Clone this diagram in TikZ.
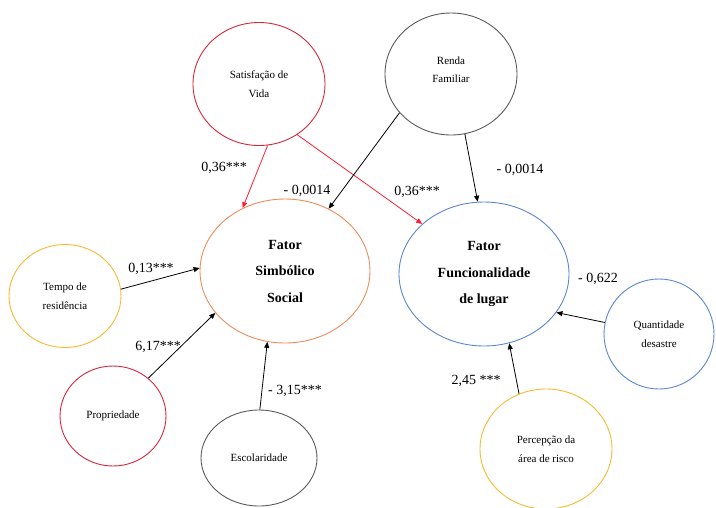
\documentclass[tikz,border=0pt]{standalone}
\usepackage{fontspec}
\setmainfont{Liberation Serif}
\usetikzlibrary{arrows.meta,shapes.geometric}
\definecolor{cred}{RGB}{214,38,58}
\definecolor{cgold}{RGB}{247,185,50}
\definecolor{corange}{RGB}{240,140,90}
\definecolor{cblue}{RGB}{90,135,210}
\definecolor{cgrey}{RGB}{90,90,90}
\definecolor{carrowred}{RGB}{250,30,50}
\tikzset{
  var/.style={draw, ellipse, line width=0.9pt, align=center, inner sep=0pt,
    font=\fontsize{11}{18.5}\selectfont},
  factor/.style={draw, ellipse, line width=0.9pt, align=center, inner sep=0pt,
    font=\fontsize{14}{26.5}\selectfont\bfseries},
  link/.style={-{Triangle[length=6pt,width=5pt]}, line width=0.8pt, black},
  redlink/.style={link, carrowred},
  coef/.style={font=\fontsize{14}{16}\selectfont, inner sep=0pt},
}
\begin{document}
\begin{tikzpicture}[x=1pt,y=-1pt]
\useasboundingbox (0,0) rectangle (716,507);

% exogenous variables
\node[var, draw=cred,  minimum width=132pt, minimum height=123pt] (sat)  at (259,84)  {Satisfação de\\Vida};
\node[var, draw=cgrey, minimum width=132pt, minimum height=122pt] (ren)  at (451,74)  {Renda\\Familiar\\[-10pt]\mbox{}};
\node[var, draw=cgold, minimum width=112pt, minimum height=103pt] (tem)  at (65,296)  {Tempo de\\residência};
\node[var, draw=cred,  minimum width=106pt, minimum height=100pt] (pro)  at (113,416) {Propriedade};
\node[var, draw=cgrey, minimum width=116pt, minimum height=96pt]  (esc)  at (259,458) {Escolaridade};
\node[var, draw=cblue, minimum width=110pt, minimum height=110pt] (qua)  at (659,334) {Quantidade\\desastre};
\node[var, draw=cgold, minimum width=132pt, minimum height=120pt] (per)  at (546,449) {Percepção da\\área de risco};

% latent factors
\node[factor, draw=corange, minimum width=170pt, minimum height=144pt] (sim) at (285,271) {Fator\\Simbólico\\Social};
\node[factor, draw=cblue,   minimum width=170pt, minimum height=144pt] (fun) at (484,274) {Fator\\Funcionalidade\\de lugar};

% paths
\draw[redlink] (sat.-82.6) -- (sim.124);
\draw[redlink] (sat.-53) -- (fun.141);
\draw[link] (ren.-143) -- (sim.55);
\draw[link] (ren.-77) -- (fun.95);
\draw[link] (tem.7) -- (sim.178);
\draw[link] (pro.47) -- (sim.-149);
\draw[link] (esc.89) -- (sim.-104);
\draw[link] (qua.168.5) -- (fun.-28);
\draw[link] (per.116) -- (fun.-70.5);

% coefficients
\node[coef] (c1) at (224,168) {0,36***};
\node[coef] (c2) at (307,191) {- 0,0014};
\node[coef] (c3) at (417,192) {0,36***};
\node[coef] (c4) at (520,170) {- 0,0014};
\node[coef] (c5) at (151,269) {0,13***};
\node[coef] (c6) at (158,347) {6,17***};
\node[coef] (c7) at (295,391) {- 3,15***};
\node[coef] (c8) at (598,279) {- 0,622};
\node[coef] (c9) at (476,381) {2,45 ***};
\end{tikzpicture}
\end{document}
